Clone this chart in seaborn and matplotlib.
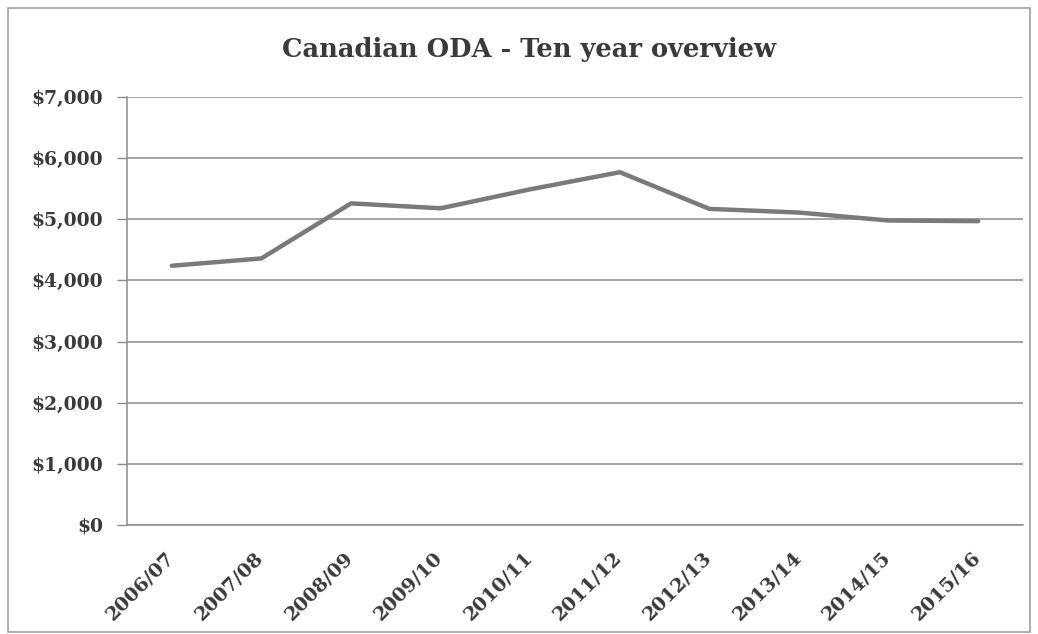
import pandas as pd
import seaborn as sns
import matplotlib.pyplot as plt
import matplotlib.transforms as mtransforms
from matplotlib.patches import Rectangle
from matplotlib.ticker import FuncFormatter, FixedLocator

# ODA values ($ millions)
years = ["2006/07", "2007/08", "2008/09", "2009/10", "2010/11",
         "2011/12", "2012/13", "2013/14", "2014/15", "2015/16"]
oda = [4240, 4360, 5260, 5180, 5490, 5770, 5170, 5110, 4980, 4970]
y_ticks = [0, 1000, 2000, 3000, 4000, 5000, 6000, 7000]

sns.set_style("white")
plt.rcParams["font.family"] = ["DejaVu Serif", "Liberation Serif"]

text_col = "#3a3a3a"
grid_col = "#8c8c8c"

df = pd.DataFrame({"pos": range(len(years)), "year": years, "oda": oda})

fig = plt.figure(figsize=(10.38, 6.34), dpi=100)
ax = fig.add_axes([127 / 1038, 1 - 525 / 634, (1023 - 127) / 1038, (525 - 97) / 634])

sns.lineplot(data=df, x="pos", y="oda", ax=ax, color="#7a7a7a", linewidth=3.2)

ax.set_ylim(0, 7000)
ax.set_xlim(-0.5, len(years) - 0.5)
ax.set_yticks(y_ticks)
ax.yaxis.set_major_formatter(FuncFormatter(lambda v, p: f"${v:,.0f}"))
ax.grid(axis="y", color=grid_col, linewidth=1.1)
ax.set_axisbelow(True)

# category boundary ticks, labels in the middle
ax.xaxis.set_major_locator(FixedLocator([i - 0.5 for i in range(len(years) + 1)]))
ax.xaxis.set_minor_locator(FixedLocator(list(range(len(years)))))
ax.set_xticklabels([])
ax.set_xticklabels(years, minor=True, rotation=45, ha="right", rotation_mode="anchor",
                   fontweight="bold")
ax.tick_params(axis="x", which="major", length=6, color=grid_col, width=1)
ax.tick_params(axis="x", which="minor", length=0, pad=17, labelsize=14, labelcolor=text_col)
ax.tick_params(axis="y", length=7, color=grid_col, width=1, labelsize=13.5,
               labelcolor=text_col, left=True, pad=10)
for lbl in ax.get_yticklabels():
    lbl.set_fontweight("bold")

# nudge rotated labels a little to the left
shift = mtransforms.ScaledTranslation(-7 / 100, 0, fig.dpi_scale_trans)
for lbl in ax.get_xticklabels(minor=True):
    lbl.set_transform(lbl.get_transform() + shift)

for s in ["top", "right"]:
    ax.spines[s].set_visible(False)
for s in ["left", "bottom"]:
    ax.spines[s].set_color(grid_col)
    ax.spines[s].set_linewidth(1.1)

ax.set_xlabel("")
ax.set_ylabel("")
fig.text(529 / 1038, 1 - 50 / 634, "Canadian ODA - Ten year overview", fontsize=18.5,
         fontweight="bold", color=text_col, ha="center", va="center")

fig.patches.append(Rectangle((8 / 1038, 2 / 634), 1022 / 1038, 624 / 634,
                             transform=fig.transFigure, fill=False,
                             edgecolor="#a0a0a0", linewidth=1.2))

plt.savefig("out.png", dpi=100)
